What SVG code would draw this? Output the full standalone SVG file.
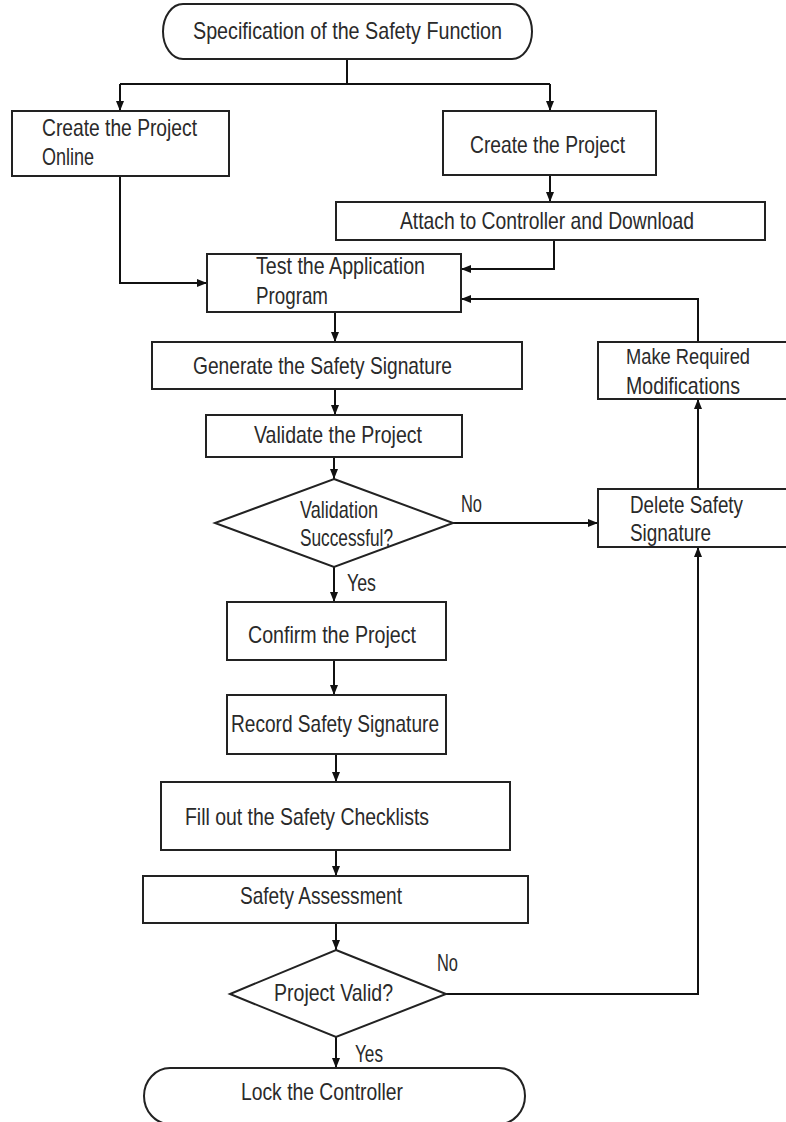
<svg xmlns="http://www.w3.org/2000/svg" width="786" height="1122" viewBox="0 0 786 1122">
  <style>
    .box { fill: #ffffff; stroke: #222222; stroke-width: 2; }
    .t { font-family: "Liberation Sans Narrow", "Liberation Sans", Arial, sans-serif; font-size: 24px; fill: #2a2a2a; }
    .c { text-anchor: middle; }
    .s { font-size: 22px; }
    .conn path { fill: none; stroke: #111111; stroke-width: 2; }
    .arr { marker-end: url(#ah); }
  </style>
  <defs>
    <marker id="ah" markerUnits="userSpaceOnUse" markerWidth="10" markerHeight="8" refX="10" refY="4" orient="auto">
      <path d="M0,0 L10,4 L0,8 Z" fill="#111111"/>
    </marker>
  </defs>
  <rect width="786" height="1122" fill="#ffffff"/>

  <g id="connectors" class="conn">
    <path d="M347,59 V84"/>
    <path d="M120,84 H550"/>
    <path class="arr" d="M120,84 V111"/>
    <path class="arr" d="M550,84 V111"/>
    <path class="arr" d="M550,175 V202"/>
    <path class="arr" d="M120,175 V283 H207"/>
    <path class="arr" d="M554,240 V269 H461"/>
    <path class="arr" d="M698,342 V299 H461"/>
    <path class="arr" d="M335,312 V342"/>
    <path class="arr" d="M335,389 V415"/>
    <path class="arr" d="M334,457 V479"/>
    <path class="arr" d="M453,523 H598"/>
    <path class="arr" d="M334,567 V602"/>
    <path class="arr" d="M334,660 V695"/>
    <path class="arr" d="M336,754 V782"/>
    <path class="arr" d="M336,850 V876"/>
    <path class="arr" d="M336,923 V950"/>
    <path class="arr" d="M446,994 H698 V547"/>
    <path class="arr" d="M698,489 V399"/>
    <path class="arr" d="M336,1037 V1068"/>
  </g>

  <g id="start">
    <rect class="box" x="163" y="4" width="369" height="55" rx="20" ry="27.5"/>
    <text class="t c" x="347.5" y="39" textLength="309" lengthAdjust="spacingAndGlyphs">Specification of the Safety Function</text>
  </g>
  <g id="create-online">
    <rect class="box" x="12" y="111" width="217" height="65"/>
    <text class="t" x="42" y="136" textLength="155" lengthAdjust="spacingAndGlyphs">Create the Project</text>
    <text class="t" x="42" y="165" textLength="52" lengthAdjust="spacingAndGlyphs">Online</text>
  </g>
  <g id="create-project">
    <rect class="box" x="443" y="111" width="213" height="64"/>
    <text class="t c" x="547.5" y="153" textLength="155" lengthAdjust="spacingAndGlyphs">Create the Project</text>
  </g>
  <g id="attach">
    <rect class="box" x="336" y="202" width="429" height="38"/>
    <text class="t c" x="547" y="229" textLength="294" lengthAdjust="spacingAndGlyphs">Attach to Controller and Download</text>
  </g>
  <g id="test">
    <rect class="box" x="207" y="254" width="254" height="58"/>
    <text class="t" x="256" y="274" textLength="169" lengthAdjust="spacingAndGlyphs">Test the Application</text>
    <text class="t" x="256" y="304" textLength="72" lengthAdjust="spacingAndGlyphs">Program</text>
  </g>
  <g id="generate">
    <rect class="box" x="152" y="342" width="370" height="47"/>
    <text class="t c" x="322.5" y="374" textLength="259" lengthAdjust="spacingAndGlyphs">Generate the Safety Signature</text>
  </g>
  <g id="validate">
    <rect class="box" x="206" y="415" width="256" height="42"/>
    <text class="t c" x="338" y="443" textLength="168" lengthAdjust="spacingAndGlyphs">Validate the Project</text>
  </g>
  <g id="validation-ok">
    <polygon class="box" points="334,479 453,523 334,567 215,523"/>
    <text class="t" x="300" y="518" textLength="78" lengthAdjust="spacingAndGlyphs">Validation</text>
    <text class="t" x="300" y="546" textLength="93" lengthAdjust="spacingAndGlyphs">Successful?</text>
  </g>
  <g id="modify">
    <rect class="box" x="598" y="342" width="200" height="57"/>
    <text class="t s" x="626" y="364" textLength="124" lengthAdjust="spacingAndGlyphs">Make Required</text>
    <text class="t" x="626" y="394" textLength="114" lengthAdjust="spacingAndGlyphs">Modifications</text>
  </g>
  <g id="delete-sig">
    <rect class="box" x="598" y="489" width="200" height="58"/>
    <text class="t" x="630" y="513" textLength="113" lengthAdjust="spacingAndGlyphs">Delete Safety</text>
    <text class="t" x="630" y="541" textLength="81" lengthAdjust="spacingAndGlyphs">Signature</text>
  </g>
  <g id="confirm">
    <rect class="box" x="227" y="602" width="219" height="58"/>
    <text class="t c" x="332" y="643" textLength="168" lengthAdjust="spacingAndGlyphs">Confirm the Project</text>
  </g>
  <g id="record">
    <rect class="box" x="227" y="695" width="219" height="59"/>
    <text class="t c" x="335" y="732" textLength="208" lengthAdjust="spacingAndGlyphs">Record Safety Signature</text>
  </g>
  <g id="checklists">
    <rect class="box" x="161" y="782" width="349" height="68"/>
    <text class="t c" x="307" y="825" textLength="244" lengthAdjust="spacingAndGlyphs">Fill out the Safety Checklists</text>
  </g>
  <g id="assessment">
    <rect class="box" x="143" y="876" width="385" height="47"/>
    <text class="t c" x="321" y="904" textLength="162" lengthAdjust="spacingAndGlyphs">Safety Assessment</text>
  </g>
  <g id="project-valid">
    <polygon class="box" points="336,950 446,994 336,1037 230,994"/>
    <text class="t c" x="333.5" y="1001" textLength="119" lengthAdjust="spacingAndGlyphs">Project Valid?</text>
  </g>
  <g id="lock">
    <rect class="box" x="144" y="1068" width="381" height="56" rx="26" ry="28"/>
    <text class="t c" x="322" y="1100" textLength="162" lengthAdjust="spacingAndGlyphs">Lock the Controller</text>
  </g>

  <g id="labels">
    <text class="t" x="461" y="512" textLength="21" lengthAdjust="spacingAndGlyphs">No</text>
    <text class="t" x="347" y="591" textLength="29" lengthAdjust="spacingAndGlyphs">Yes</text>
    <text class="t" x="437" y="971" textLength="21" lengthAdjust="spacingAndGlyphs">No</text>
    <text class="t" x="355" y="1062" textLength="28" lengthAdjust="spacingAndGlyphs">Yes</text>
  </g>
</svg>
